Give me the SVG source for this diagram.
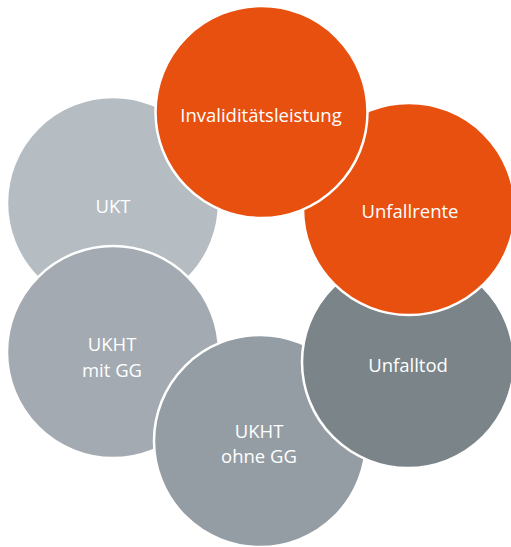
<svg xmlns="http://www.w3.org/2000/svg" width="511" height="547" viewBox="0 0 511 547">
<style>
.c{stroke:#ffffff;stroke-width:2.5}
.t{font-family:"Open Sans","Noto Sans","Liberation Sans",sans-serif;font-size:18.5px;fill:#ffffff;text-anchor:middle}
</style>
<rect width="511" height="547" fill="#ffffff"/>
<g id="ukt"><circle class="c" cx="113" cy="203" r="106" fill="#B5BCC2"/><text class="t" x="113" y="213">UKT</text></g>
<g id="ukht-mit-gg"><circle class="c" cx="113" cy="352" r="106" fill="#A3AAB1"/><text class="t" x="112" y="351">UKHT</text><text class="t" x="112" y="377">mit GG</text></g>
<g id="ukht-ohne-gg"><circle class="c" cx="260" cy="441" r="106" fill="#959DA4"/><text class="t" x="259" y="438">UKHT</text><text class="t" x="259" y="463">ohne GG</text></g>
<g id="unfalltod"><circle class="c" cx="408" cy="362" r="106" fill="#7A8489"/><text class="t" x="408" y="372">Unfalltod</text></g>
<g id="unfallrente"><circle class="c" cx="409" cy="209" r="106" fill="#E8500F"/><text class="t" x="410" y="218">Unfallrente</text></g>
<g id="invaliditaetsleistung"><circle class="c" cx="261.5" cy="112" r="106" fill="#E8500F"/><text class="t" x="261" y="122">Invaliditätsleistung</text></g>
<g id="connectors"/>
</svg>
